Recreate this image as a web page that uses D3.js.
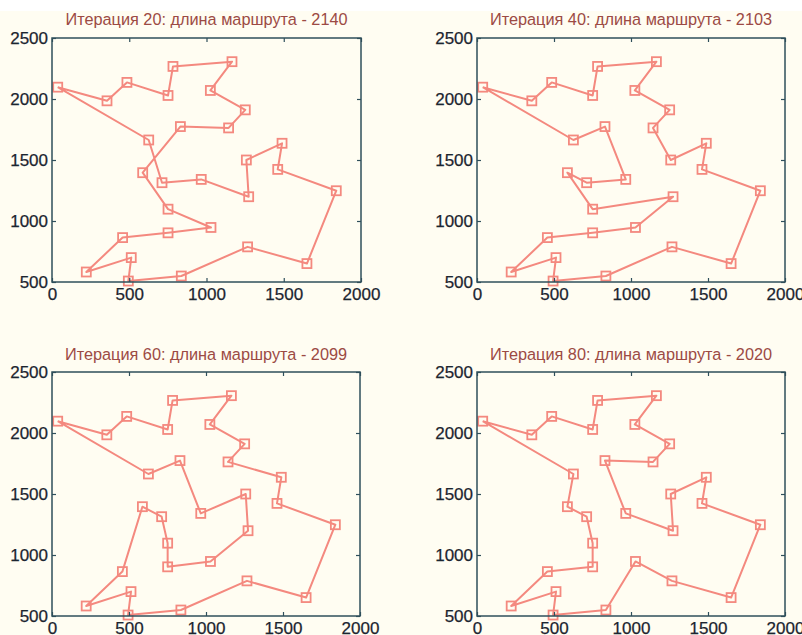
<!DOCTYPE html>
<html>
<head>
<meta charset="utf-8">
<script src="https://cdn.jsdelivr.net/npm/d3@7"></script>
<style>
  body { margin: 0; background: #fffdf2; }
  svg { display: block; }
  .tick text { font-family: "Liberation Sans", Arial, sans-serif; font-size: 17px; fill: #1c2530; stroke: #1c2530; stroke-width: 0.25; }
  .title { font-family: "Liberation Sans", Arial, sans-serif; font-size: 16.3px; fill: #9c4a44; }
</style>
</head>
<body>
<svg width="802" height="635"></svg>
<script>
// city coordinates (cities 1..29, stored 0-based)
var cityX = [37, 356, 485, 751, 783, 1165, 1025, 1251, 1143, 831, 626, 587, 712, 966, 1273,
             1258, 1489, 1461, 1840, 1650, 1266, 837, 494, 513, 222, 457, 751, 1029, 751];
var cityY = [2097, 1985, 2136, 2029, 2267, 2306, 2070, 1911, 1763, 1774, 1664, 1396, 1314, 1341, 1199,
             1500, 1637, 1423, 1248, 651, 788, 549, 508, 700, 582, 864, 903, 947, 1097];

// tours (1-based city numbers)
var route20 = [1, 11, 13, 14, 15, 16, 17, 18, 19, 20, 21, 22, 23, 24, 25, 26, 27, 28, 29, 12, 10, 9, 8, 7, 6, 5, 4, 3, 2];
var route40 = [1, 2, 3, 4, 5, 6, 7, 8, 9, 16, 17, 18, 19, 20, 21, 22, 23, 24, 25, 26, 27, 28, 15, 29, 12, 13, 14, 10, 11];
var route60 = [1, 2, 3, 4, 5, 6, 7, 8, 9, 17, 18, 19, 20, 21, 22, 23, 24, 25, 26, 12, 13, 29, 27, 28, 15, 16, 14, 10, 11];
var route80 = [1, 2, 3, 4, 5, 6, 7, 8, 9, 10, 14, 15, 16, 17, 18, 19, 20, 21, 28, 22, 23, 24, 25, 26, 27, 29, 13, 12, 11];

var iterations = [20, 40, 60, 80];
var lengths = [2140, 2103, 2099, 2020];
var routes = [route20, route40, route60, route80];

var xTicks = [0, 500, 1000, 1500, 2000];
var yTicks = [500, 1000, 1500, 2000, 2500];

var svg = d3.select("svg");

svg.append("rect")
    .attr("width", 802)
    .attr("height", 11)
    .attr("fill", "#ffffff");

var panels = [
    {left: 52, top: 38, w: 309, h: 244, ty: 25},
    {left: 477, top: 38, w: 308, h: 244, ty: 25},
    {left: 52, top: 372, w: 308, h: 244, ty: 360},
    {left: 477, top: 372, w: 308, h: 244, ty: 360}
];

var lineColor = "#f4897f";
var axisColor = "#2f4f5b";

panels.forEach(function(p, i) {
    var x = d3.scaleLinear().domain([0, 2000]).range([0, p.w]);
    var y = d3.scaleLinear().domain([500, 2500]).range([p.h, 0]);

    var g = svg.append("g")
        .attr("transform", "translate(" + p.left + "," + p.top + ")");

    svg.append("text")
        .attr("class", "title")
        .attr("x", p.left + p.w / 2)
        .attr("y", p.ty)
        .attr("text-anchor", "middle")
        .text("Итерация " + iterations[i] + ": длина маршрута - " + lengths[i]);

    var tour = routes[i].concat([routes[i][0]]).map(function(c) {
        return [cityX[c - 1], cityY[c - 1]];
    });

    var line = d3.line()
        .x(function(d) { return x(d[0]); })
        .y(function(d) { return y(d[1]); });

    g.append("path")
        .datum(tour)
        .attr("d", line)
        .attr("fill", "none")
        .attr("stroke", lineColor)
        .attr("stroke-width", 2)
        .attr("stroke-linejoin", "round");

    g.selectAll(".city")
        .data(d3.range(cityX.length))
        .enter().append("rect")
        .attr("class", "city")
        .attr("x", function(k) { return x(cityX[k]) - 4.5; })
        .attr("y", function(k) { return y(cityY[k]) - 4.5; })
        .attr("width", 9)
        .attr("height", 9)
        .attr("fill", "none")
        .attr("stroke", lineColor)
        .attr("stroke-width", 1.8);

    var gx = g.append("g")
        .attr("transform", "translate(0," + p.h + ")")
        .call(d3.axisBottom(x).tickValues(xTicks).tickFormat(d3.format("d"))
            .tickSizeInner(-4).tickSizeOuter(0).tickPadding(6));
    var gy = g.append("g")
        .call(d3.axisLeft(y).tickValues(yTicks).tickFormat(d3.format("d"))
            .tickSizeInner(-4).tickSizeOuter(0).tickPadding(4));
    var gt = g.append("g")
        .call(d3.axisTop(x).tickValues(xTicks).tickFormat("")
            .tickSizeInner(-4).tickSizeOuter(0));
    var gr = g.append("g")
        .attr("transform", "translate(" + p.w + ",0)")
        .call(d3.axisRight(y).tickValues(yTicks).tickFormat("")
            .tickSizeInner(-4).tickSizeOuter(0));

    [gx, gy, gt, gr].forEach(function(a) {
        a.select(".domain").remove();
        a.selectAll("line").attr("stroke", axisColor).attr("stroke-width", 1.2);
    });

    g.append("rect")
        .attr("width", p.w)
        .attr("height", p.h)
        .attr("fill", "none")
        .attr("stroke", axisColor)
        .attr("stroke-width", 1.5);
});
</script>
</body>
</html>
